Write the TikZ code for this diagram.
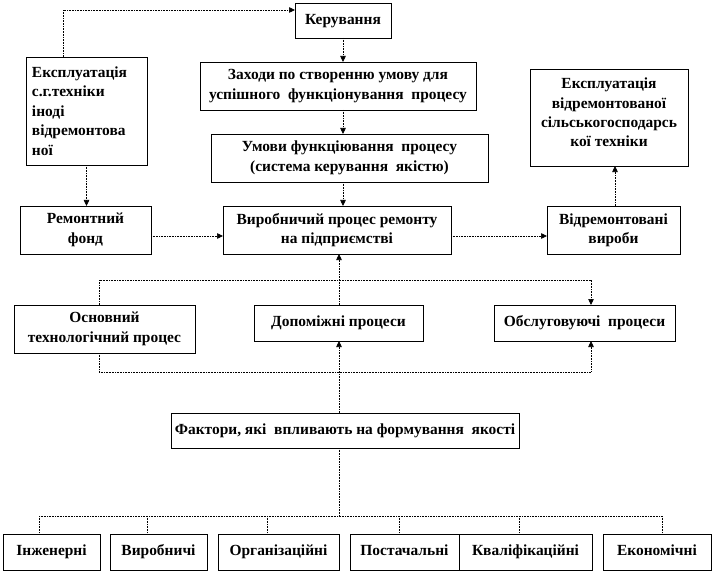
\documentclass[tikz,border=0pt]{standalone}
\usepackage{fontspec}
\setmainfont{Liberation Serif}
\usetikzlibrary{arrows.meta}
\begin{document}
\begin{tikzpicture}[x=1bp,y=-1bp,
  box/.style={draw=black, line width=0.8pt, inner sep=1pt, outer sep=0pt, align=center,
    font=\fontsize{15.5}{19.5}\selectfont\bfseries},
  one/.style={box, text height=11bp, text depth=3.5bp},
  conn/.style={line width=0.7pt, dash pattern=on 0.8pt off 0.8pt},
  arr/.style={conn, -{Triangle[length=6bp,width=5.5bp]}}]
\useasboundingbox (0,0) rectangle (714,573);
% nodes
\node[one, minimum width=96bp, minimum height=35bp] (ker) at (343,20.5) {Керування};
\node[box, minimum width=276bp, minimum height=48bp] (zah) at (338,86) {Заходи по створенню умову для\\успішного \ функціонування \ процесу};
\node[box, minimum width=277bp, minimum height=48bp] (umo) at (349.5,158) {Умови функціювання \ процесу\\(система керування \ якістю)};
\node[box, minimum width=121bp, minimum height=108bp, align=left, text width=109bp] (expl) at (86.5,111) {Експлуатація\\с.г.техніки\\іноді\\відремонтова\\ної};
\node[box, minimum width=158bp, minimum height=97bp, text depth=10bp] (expr) at (609,117.5) {Експлуатація\\відремонтованої\\сільськогосподарсь\\кої техніки};
\node[box, minimum width=131bp, minimum height=48bp] (rem) at (85.5,230) {Ремонтний\\фонд};
\node[box, minimum width=228bp, minimum height=48bp] (vyr) at (337,230) {Виробничий процес ремонту\\на підприємстві};
\node[box, minimum width=133bp, minimum height=48bp] (vid) at (613.5,230) {Відремонтовані\\вироби};
\node[box, minimum width=181bp, minimum height=48bp] (osn) at (104.5,329) {Основний\\технологічний процес};
\node[one, minimum width=169bp, minimum height=36bp] (dop) at (338.5,323) {Допоміжні процеси};
\node[one, minimum width=181bp, minimum height=36bp] (obs) at (584.5,323) {Обслуговуючі \ процеси};
\node[one, minimum width=348bp, minimum height=35bp] (fak) at (345,430.5) {Фактори, які \ впливають на формування \ якості};
\node[one, minimum width=97bp, minimum height=36bp] (inz) at (51.5,552) {Інженерні};
\node[one, minimum width=97bp, minimum height=36bp] (vyb) at (158.5,552) {Виробничі};
\node[one, minimum width=121bp, minimum height=36bp] (org) at (278.5,552) {Організаційні};
\node[one, minimum width=109bp, minimum height=36bp] (pos) at (404.5,552) {Постачальні};
\node[one, minimum width=133bp, minimum height=36bp] (kva) at (525.5,552) {Кваліфікаційні};
\node[one, minimum width=108bp, minimum height=36bp] (eko) at (657,552) {Економічні};
% helper coordinates
\coordinate (t1) at (63,10);
\coordinate (h1) at (0,236);
\coordinate (v1) at (615,0);
\coordinate (a1) at (99,280);
\coordinate (b1) at (591,280);
\coordinate (a2) at (99,372);
\coordinate (b2) at (591,372);
\coordinate (m1) at (339,0);
\coordinate (f1) at (339,516);
\coordinate (fl) at (39,516);
\coordinate (fr) at (662,516);
% connectors
\draw[arr] (expl.north -| t1) |- (ker.west |- t1);
\draw[arr] (ker.south) -- (ker.south |- zah.north);
\draw[arr] (zah.south -| ker.south) -- (umo.north -| ker.south);
\draw[arr] (umo.south -| ker.south) -- (vyr.north -| ker.south);
\draw[arr] (expl.south) -- (expl.south |- rem.north);
\draw[arr] (rem.east |- h1) -- (vyr.west |- h1);
\draw[arr] (vyr.east |- h1) -- (vid.west |- h1);
\draw[arr] (vid.north -| v1) -- (expr.south -| v1);
\draw[arr] (osn.north -| a1) -- (a1) -- (b1) -- (obs.north -| b1);
\draw[arr] (dop.north -| m1) -- (vyr.south -| m1);
\draw[arr] (osn.south -| a2) -- (a2) -- (b2) -- (obs.south -| b2);
\draw[arr] (fak.north -| m1) -- (dop.south -| m1);
\draw[conn] (fak.south -| m1) -- (f1);
\draw[conn] (fl) -- (fr);
\draw[conn] (fl) -- (inz.north -| fl);
\draw[conn] (147,516) coordinate (k2) -- (vyb.north -| k2);
\draw[conn] (267,516) coordinate (k3) -- (org.north -| k3);
\draw[conn] (399,516) coordinate (k4) -- (pos.north -| k4);
\draw[conn] (519,516) coordinate (k5) -- (kva.north -| k5);
\draw[conn] (fr) -- (eko.north -| fr);
\end{tikzpicture}
\end{document}
